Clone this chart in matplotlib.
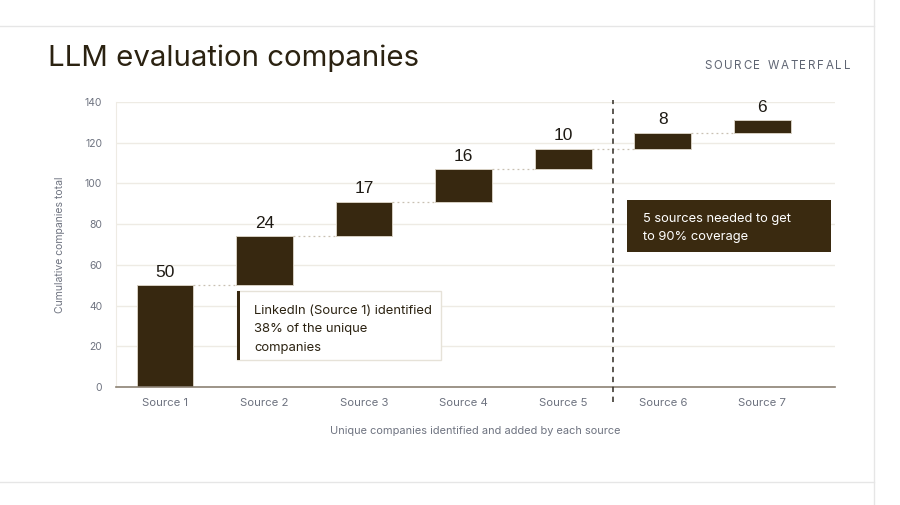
import matplotlib.pyplot as plt
from matplotlib.patches import Rectangle
import numpy as np

# data
sources = ["Source 1", "Source 2", "Source 3", "Source 4", "Source 5", "Source 6", "Source 7"]
added = [50, 24, 17, 16, 10, 8, 6]
y_ticks = [0, 20, 40, 60, 80, 100, 120, 140]

cumulative = np.cumsum(added)
starts = cumulative - np.array(added)

BAR = "#372810"
INK = "#2b2211"
GREY = "#6e7380"
GRID = "#eeebe4"

plt.rcParams['font.family'] = ['Inter', 'DejaVu Sans']

fig = plt.figure(figsize=(9, 5.05), dpi=100)
fig.patch.set_facecolor("white")
ax = fig.add_axes([116 / 900, 1 - 387 / 505, (835 - 116) / 900, (387 - 102) / 505])

x = np.arange(len(sources))
w = 0.57
ax.bar(x, added, bottom=starts, width=w, color=BAR, edgecolor="#d6cfc2", linewidth=0.7, zorder=3)

# dotted connectors
for i in range(len(sources) - 1):
    ax.plot([x[i] + w / 2, x[i + 1] - w / 2], [cumulative[i], cumulative[i]],
            linestyle=(0, (1.5, 2.5)), color="#c9c0b2", linewidth=0.9, zorder=2)

for xi, top, v in zip(x, cumulative, added):
    ax.annotate(str(v), (xi, top), xytext=(0, 4), textcoords="offset points",
                ha="center", va="bottom", fontsize=12.5, color="#1e1a14",
                family=['Liberation Sans', 'DejaVu Sans'])

ax.set_xlim(-0.492, 6.73)
ax.set_ylim(0, 140)
ax.set_yticks(y_ticks)
ax.set_xticks(x)
ax.set_xticklabels(sources)
ax.tick_params(axis="both", length=0, colors=GREY)
ax.tick_params(axis="x", labelsize=8.2, pad=8)
ax.tick_params(axis="y", labelsize=7.5, pad=10)
ax.grid(axis="y", color=GRID, linewidth=1, zorder=0)
for s in ["top", "right"]:
    ax.spines[s].set_visible(False)
ax.spines["left"].set_color(GRID)
ax.spines["bottom"].set_color("#8c8274")
ax.spines["bottom"].set_linewidth(1.2)
ax.spines["bottom"].set_zorder(4)

ax.set_ylabel("Cumulative companies total", fontsize=7.5, color=GREY, labelpad=14)
ax.set_xlabel("Unique companies identified and added by each source", fontsize=7.9,
              color=GREY, labelpad=13)

# 90% coverage marker
ax.plot([4.5, 4.5], [-7.5, 141], linestyle=(0, (3.5, 3)), color="#2f2a22",
        linewidth=1.1, clip_on=False, zorder=5)

# LinkedIn note
ax.add_patch(Rectangle((0.72, 13.3), 2.05, 33.9, facecolor="white", edgecolor="#e6e2d8",
                       linewidth=1, zorder=6))
ax.add_patch(Rectangle((0.72, 13.3), 0.03, 33.9, facecolor=BAR, edgecolor="none", zorder=7))
ax.text(0.895, 28.3, "LinkedIn (Source 1) identified\n38% of the unique\ncompanies",
        fontsize=9.4, color=INK, va="center", ha="left", linespacing=1.75, zorder=8)

# coverage note
ax.add_patch(Rectangle((4.643, 66.3), 2.05, 25.5, facecolor="#3a2a10", edgecolor="none", zorder=6))
ax.text(4.80, 78.1, "5 sources needed to get\nto 90% coverage", fontsize=9.3, color="white",
        va="center", ha="left", linespacing=1.75, zorder=8)

fig.text(48 / 900, 1 - 58 / 505, "LLM evaluation companies", fontsize=21.2, color=INK,
         ha="left", va="center")

# letter-spaced kicker, laid out one glyph at a time
kicker = "SOURCE WATERFALL"
kick_size = 8.3
renderer = fig.canvas.get_renderer()
left_px, right_px = 704, 850
widths = []
for ch in kicker:
    t = fig.text(0, 0, ch if ch != " " else "n", fontsize=kick_size)
    widths.append(t.get_window_extent(renderer).width * (0.6 if ch == " " else 1))
    t.remove()
gap = (right_px - left_px - sum(widths)) / (len(kicker) - 1)
pos = left_px
for ch, cw in zip(kicker, widths):
    if ch != " ":
        fig.text(pos / 900, 1 - 66 / 505, ch, fontsize=kick_size, color="#5f6573",
                 ha="left", va="center")
    pos += cw + gap

# card border lines
fig.add_artist(plt.Line2D([0, 874 / 900], [1 - 26 / 505, 1 - 26 / 505], color="#e6e6e6", linewidth=1))
fig.add_artist(plt.Line2D([0, 874 / 900], [1 - 482 / 505, 1 - 482 / 505], color="#e6e6e6", linewidth=1))
fig.add_artist(plt.Line2D([874 / 900, 874 / 900], [0, 1], color="#e6e6e6", linewidth=1))

fig.savefig("out.png", dpi=100)
